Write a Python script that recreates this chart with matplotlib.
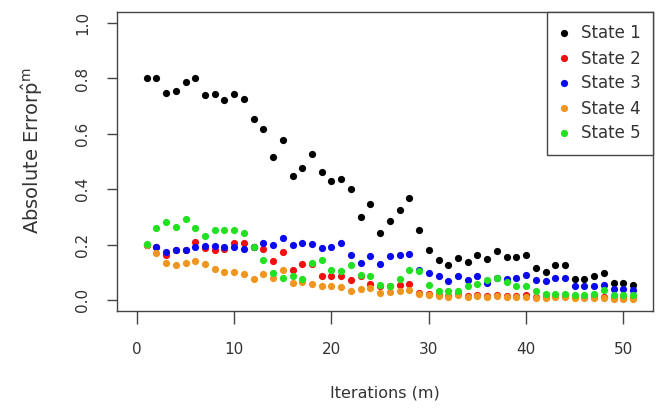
import matplotlib
matplotlib.use("Agg")
import matplotlib.pyplot as plt
import numpy as np

iterations = list(range(1, 52))

state1 = [0.802, 0.802, 0.748, 0.754, 0.788, 0.802, 0.740, 0.743, 0.722, 0.743,
          0.725, 0.654, 0.618, 0.515, 0.579, 0.449, 0.476, 0.526, 0.462, 0.431,
          0.436, 0.400, 0.299, 0.347, 0.241, 0.286, 0.325, 0.369, 0.251, 0.179,
          0.143, 0.125, 0.151, 0.138, 0.164, 0.148, 0.175, 0.155, 0.155, 0.163,
          0.115, 0.101, 0.125, 0.125, 0.076, 0.076, 0.085, 0.097, 0.061, 0.061,
          0.053]
state2 = [0.200, 0.190, 0.161, 0.181, 0.182, 0.211, 0.186, 0.181, 0.185, 0.206,
          0.206, 0.190, 0.184, 0.139, 0.174, 0.108, 0.130, 0.128, 0.085, 0.085,
          0.085, 0.071, 0.085, 0.059, 0.050, 0.050, 0.054, 0.058, 0.025, 0.022,
          0.018, 0.015, 0.020, 0.015, 0.017, 0.015, 0.017, 0.015, 0.015, 0.019,
          0.012, 0.012, 0.013, 0.013, 0.012, 0.012, 0.012, 0.012, 0.008, 0.008,
          0.006]
state3 = [0.200, 0.191, 0.172, 0.181, 0.181, 0.192, 0.194, 0.194, 0.192, 0.190,
          0.185, 0.190, 0.205, 0.197, 0.223, 0.197, 0.205, 0.202, 0.187, 0.192,
          0.205, 0.163, 0.133, 0.160, 0.130, 0.157, 0.161, 0.166, 0.108, 0.097,
          0.085, 0.067, 0.085, 0.072, 0.085, 0.060, 0.080, 0.077, 0.081, 0.091,
          0.073, 0.070, 0.081, 0.081, 0.049, 0.049, 0.049, 0.055, 0.041, 0.041,
          0.037]
state4 = [0.200, 0.169, 0.133, 0.127, 0.133, 0.139, 0.130, 0.113, 0.101, 0.101,
          0.094, 0.074, 0.094, 0.079, 0.107, 0.060, 0.065, 0.058, 0.050, 0.049,
          0.045, 0.034, 0.038, 0.043, 0.025, 0.029, 0.034, 0.037, 0.022, 0.017,
          0.013, 0.010, 0.017, 0.010, 0.013, 0.010, 0.013, 0.010, 0.010, 0.012,
          0.008, 0.008, 0.010, 0.010, 0.008, 0.008, 0.008, 0.008, 0.005, 0.005,
          0.002]
state5 = [0.202, 0.259, 0.283, 0.264, 0.293, 0.259, 0.232, 0.254, 0.251, 0.251,
          0.240, 0.192, 0.143, 0.098, 0.081, 0.085, 0.077, 0.135, 0.145, 0.108,
          0.103, 0.125, 0.089, 0.085, 0.055, 0.052, 0.076, 0.107, 0.103, 0.053,
          0.034, 0.034, 0.034, 0.052, 0.058, 0.073, 0.079, 0.064, 0.050, 0.050,
          0.031, 0.022, 0.022, 0.022, 0.017, 0.017, 0.022, 0.036, 0.018, 0.018,
          0.018]

series = [state1, state2, state3, state4, state5]
labels = ["State 1", "State 2", "State 3", "State 4", "State 5"]
colors = ["#000000", "#F01010", "#0A0AEE", "#F0961E", "#22E022"]

x_ticks = [0, 10, 20, 30, 40, 50]
y_ticks = [0.0, 0.2, 0.4, 0.6, 0.8, 1.0]
y_ticklabels = ["0.0", "0.2", "0.4", "0.6", "0.8", "1.0"]

plt.rcParams['font.family'] = ['DejaVu Sans']
plt.rcParams['mathtext.fontset'] = 'dejavusans'

fig = plt.figure(figsize=(6.61, 4.08), dpi=100)
ax = fig.add_axes([117 / 661, 1 - 311 / 408, (653 - 117) / 661, (311 - 12) / 408])

for vals, lab, col in zip(series, labels, colors):
    ax.plot(iterations, vals, linestyle='none', marker='o', markersize=5.2,
            markeredgewidth=0, color=col, label=lab)

ax.set_xlim(-2.04, 53.04)
ax.set_ylim(-0.04, 1.04)
ax.set_xticks(x_ticks)
ax.set_yticks(y_ticks)
ax.set_yticklabels(y_ticklabels, rotation=90, rotation_mode='default',
                   ha='right', va='center')

text_col = "#333333"
for s in ax.spines.values():
    s.set_color("#444444")
    s.set_linewidth(1.0)

ax.tick_params(axis='x', direction='out', length=9, width=1, color="#444444",
               pad=13, labelsize=11, labelcolor=text_col)
ax.tick_params(axis='y', direction='out', length=7.5, width=1, color="#444444",
               pad=12, labelsize=11, labelcolor=text_col)

ax.set_xlabel("Iterations (m)", fontsize=11.5, color=text_col, labelpad=21)
ax.set_ylabel(r"Absolute Error$\hat{\mathrm{p}}^{\mathrm{m}}$", fontsize=14,
              color=text_col)
ax.yaxis.set_label_coords(-0.135, 0.535)

leg = ax.legend(loc='upper right', fontsize=12, frameon=True, fancybox=False,
                framealpha=1, edgecolor="#444444", borderaxespad=0,
                borderpad=0.75, handlelength=0.6, handletextpad=0.7,
                labelspacing=0.42, markerscale=1.0)
leg.get_frame().set_linewidth(1.0)
for t in leg.get_texts():
    t.set_color(text_col)

fig.savefig("out.png", dpi=100)
